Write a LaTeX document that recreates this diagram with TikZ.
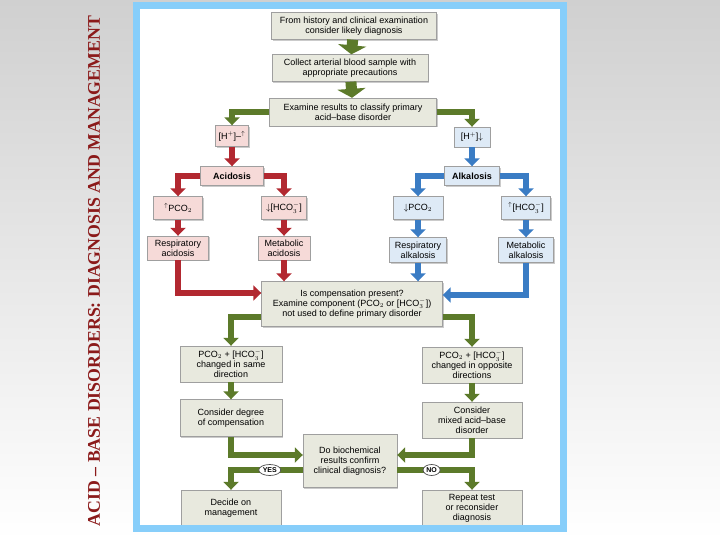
\documentclass[tikz,border=0pt]{standalone}
\usepackage{fontspec}
\setmainfont{Liberation Serif}
\setsansfont{Liberation Sans}
\usepackage{tikz}
\usetikzlibrary{arrows.meta,shadows,shapes.geometric,calc}
\definecolor{slidegray}{RGB}{208,208,208}
\definecolor{framesky}{RGB}{135,206,250}
\definecolor{titlered}{RGB}{139,26,26}
\definecolor{boxbeige}{RGB}{232,233,222}
\definecolor{boxpink}{RGB}{246,218,216}
\definecolor{boxblue}{RGB}{222,234,246}
\definecolor{flowgreen}{RGB}{92,122,42}
\definecolor{flowred}{RGB}{178,40,48}
\definecolor{flowblue}{RGB}{58,124,196}

\begin{document}
\begin{tikzpicture}[x=1pt,y=-1pt,
    box/.style={draw=gray!75,fill=boxbeige,align=center,inner sep=1pt,
      font=\sffamily\fontsize{9}{10}\selectfont,
      drop shadow={shadow xshift=1.2pt,shadow yshift=-1.2pt,fill=gray!80,opacity=0.5}},
    pbox/.style={box,fill=boxpink},
    bbox/.style={box,fill=boxblue},
    gflow/.style={draw=flowgreen,line width=6pt,-{Triangle[width=15pt,length=8pt]}},
    rflow/.style={gflow,draw=flowred},
    bflow/.style={gflow,draw=flowblue},
    bigflow/.style={draw=flowgreen,line width=11pt,-{Triangle[width=28pt,length=9pt]}},
    tag/.style={ellipse,draw=black!70,line width=0.7pt,fill=white,text=black,inner sep=0.8pt,
      minimum width=17pt,minimum height=11pt,
      font=\sffamily\bfseries\fontsize{7}{7}\selectfont}]
    \useasboundingbox (0,0) rectangle (720,540);
    \shade[top color=slidegray,bottom color=white] (0,0) rectangle (720,540);
    \fill[white] (136.5,5.5) rectangle (563.5,528.5);
    \node[rotate=90,text=titlered,font=\rmfamily\bfseries\fontsize{17.8}{18}\selectfont] (title) at (94,271)
      {ACID -- BASE DISORDERS: DIAGNOSIS AND MANAGEMENT};

    \node[box,minimum width=165,minimum height=27] (hist) at (354,26)
      {From history and clinical examination\\consider likely diagnosis};
    \node[box,minimum width=156,minimum height=27] (coll) at (350,68)
      {Collect arterial blood sample with\\appropriate precautions};
    \node[box,minimum width=167,minimum height=28] (exam) at (353,112)
      {Examine results to classify primary\\acid--base disorder};
    \node[pbox,minimum width=33,minimum height=21] (hup) at (232,136) {[H$^+$]--$^\uparrow$};
    \node[bbox,minimum width=36,minimum height=20] (hdown) at (472,137) {[H$^+$]$\downarrow$};
    \node[pbox,font=\sffamily\bfseries\fontsize{9}{10}\selectfont,minimum width=63,minimum height=19] (acid) at (232,176) {Acidosis};
    \node[bbox,font=\sffamily\bfseries\fontsize{9}{10}\selectfont,minimum width=55,minimum height=19] (alk) at (472,176) {Alkalosis};
    \node[pbox,minimum width=49,minimum height=23] (pcoup) at (178,208) {$^\uparrow$PCO$_2$};
    \node[pbox,minimum width=45,minimum height=23] (hcodn) at (284,208) {$\downarrow$[HCO$_3^-$]};
    \node[bbox,minimum width=50,minimum height=23] (pcodn) at (418,208) {$\downarrow$PCO$_2$};
    \node[bbox,minimum width=49,minimum height=23] (hcoup) at (526,208) {$^\uparrow$[HCO$_3^-$]};
    \node[pbox,minimum width=61,minimum height=24] (racid) at (178,248) {Respiratory\\acidosis};
    \node[pbox,minimum width=52,minimum height=24] (macid) at (284,248) {Metabolic\\acidosis};
    \node[bbox,minimum width=57,minimum height=25] (ralk) at (418,250) {Respiratory\\alkalosis};
    \node[bbox,minimum width=55,minimum height=25] (malk) at (526,250) {Metabolic\\alkalosis};
    \node[box,minimum width=181,minimum height=45] (comp) at (352,304)
      {Is compensation present?\\Examine component (PCO$_2$ or [HCO$_3^-$])\\not used to define primary disorder};
    \node[box,minimum width=102,minimum height=36] (same) at (231,364)
      {PCO$_2$ + [HCO$_3^-$]\\changed in same\\direction};
    \node[box,minimum width=100,minimum height=36] (opp) at (472,365)
      {PCO$_2$ + [HCO$_3^-$]\\changed in opposite\\directions};
    \node[box,minimum width=102,minimum height=37] (degree) at (231,418)
      {Consider degree\\of compensation};
    \node[box,minimum width=100,minimum height=36] (mixed) at (472,420)
      {Consider\\mixed acid--base\\disorder};
    \node[box,minimum width=94,minimum height=53] (confirm) at (350,461)
      {Do biochemical\\results confirm\\clinical diagnosis?};
    \node[box,minimum width=100,minimum height=36] (manage) at (231,508)
      {Decide on\\management};
    \node[box,minimum width=100,minimum height=36] (repeat) at (472,508)
      {Repeat test\\or reconsider\\diagnosis};

    \draw[bigflow] (hist) -- (coll);
    \draw[bigflow] (coll) -- (exam);
    \draw[gflow] (exam.west) -| (hup.north);
    \draw[gflow] (exam.east) -| (hdown.north);
    \draw[rflow] (hup) -- (acid);
    \draw[rflow] (acid.west) -| (pcoup.north);
    \draw[rflow] (acid.east) -| (hcodn.north);
    \draw[rflow] (pcoup) -- (racid);
    \draw[rflow] (hcodn) -- (macid);
    \draw[bflow] (hdown) -- (alk);
    \draw[bflow] (alk.west) -| (pcodn.north);
    \draw[bflow] (alk.east) -| (hcoup.north);
    \draw[bflow] (pcodn) -- (ralk);
    \draw[bflow] (hcoup) -- (malk);
    \draw[rflow] (racid.south) |- ([yshift=11pt]comp.west);
    \draw[rflow] (macid) -- (macid |- comp.north);
    \draw[bflow] (ralk) -- (ralk |- comp.north);
    \draw[bflow] (malk.south) |- ([yshift=9pt]comp.east);
    \draw[gflow] ([yshift=-13pt]comp.west) -| (same.north);
    \draw[gflow] ([yshift=-13pt]comp.east) -| (opp.north);
    \draw[gflow] (same) -- (degree);
    \draw[gflow] (opp) -- (mixed);
    \draw[gflow] (degree.south) |- ([yshift=6pt]confirm.west);
    \draw[gflow] (mixed.south) |- ([yshift=6pt]confirm.east);
    \draw[gflow] ([yshift=-9pt]confirm.west) -| node[tag,pos=0.23] (yes) {YES} (manage.north);
    \draw[gflow] ([yshift=-9pt]confirm.east) -| node[tag,pos=0.23] (no) {NO} (repeat.north);

    \draw[framesky,line width=7pt] (136.5,5.5) rectangle (563.5,528.5);
\end{tikzpicture}
\end{document}
